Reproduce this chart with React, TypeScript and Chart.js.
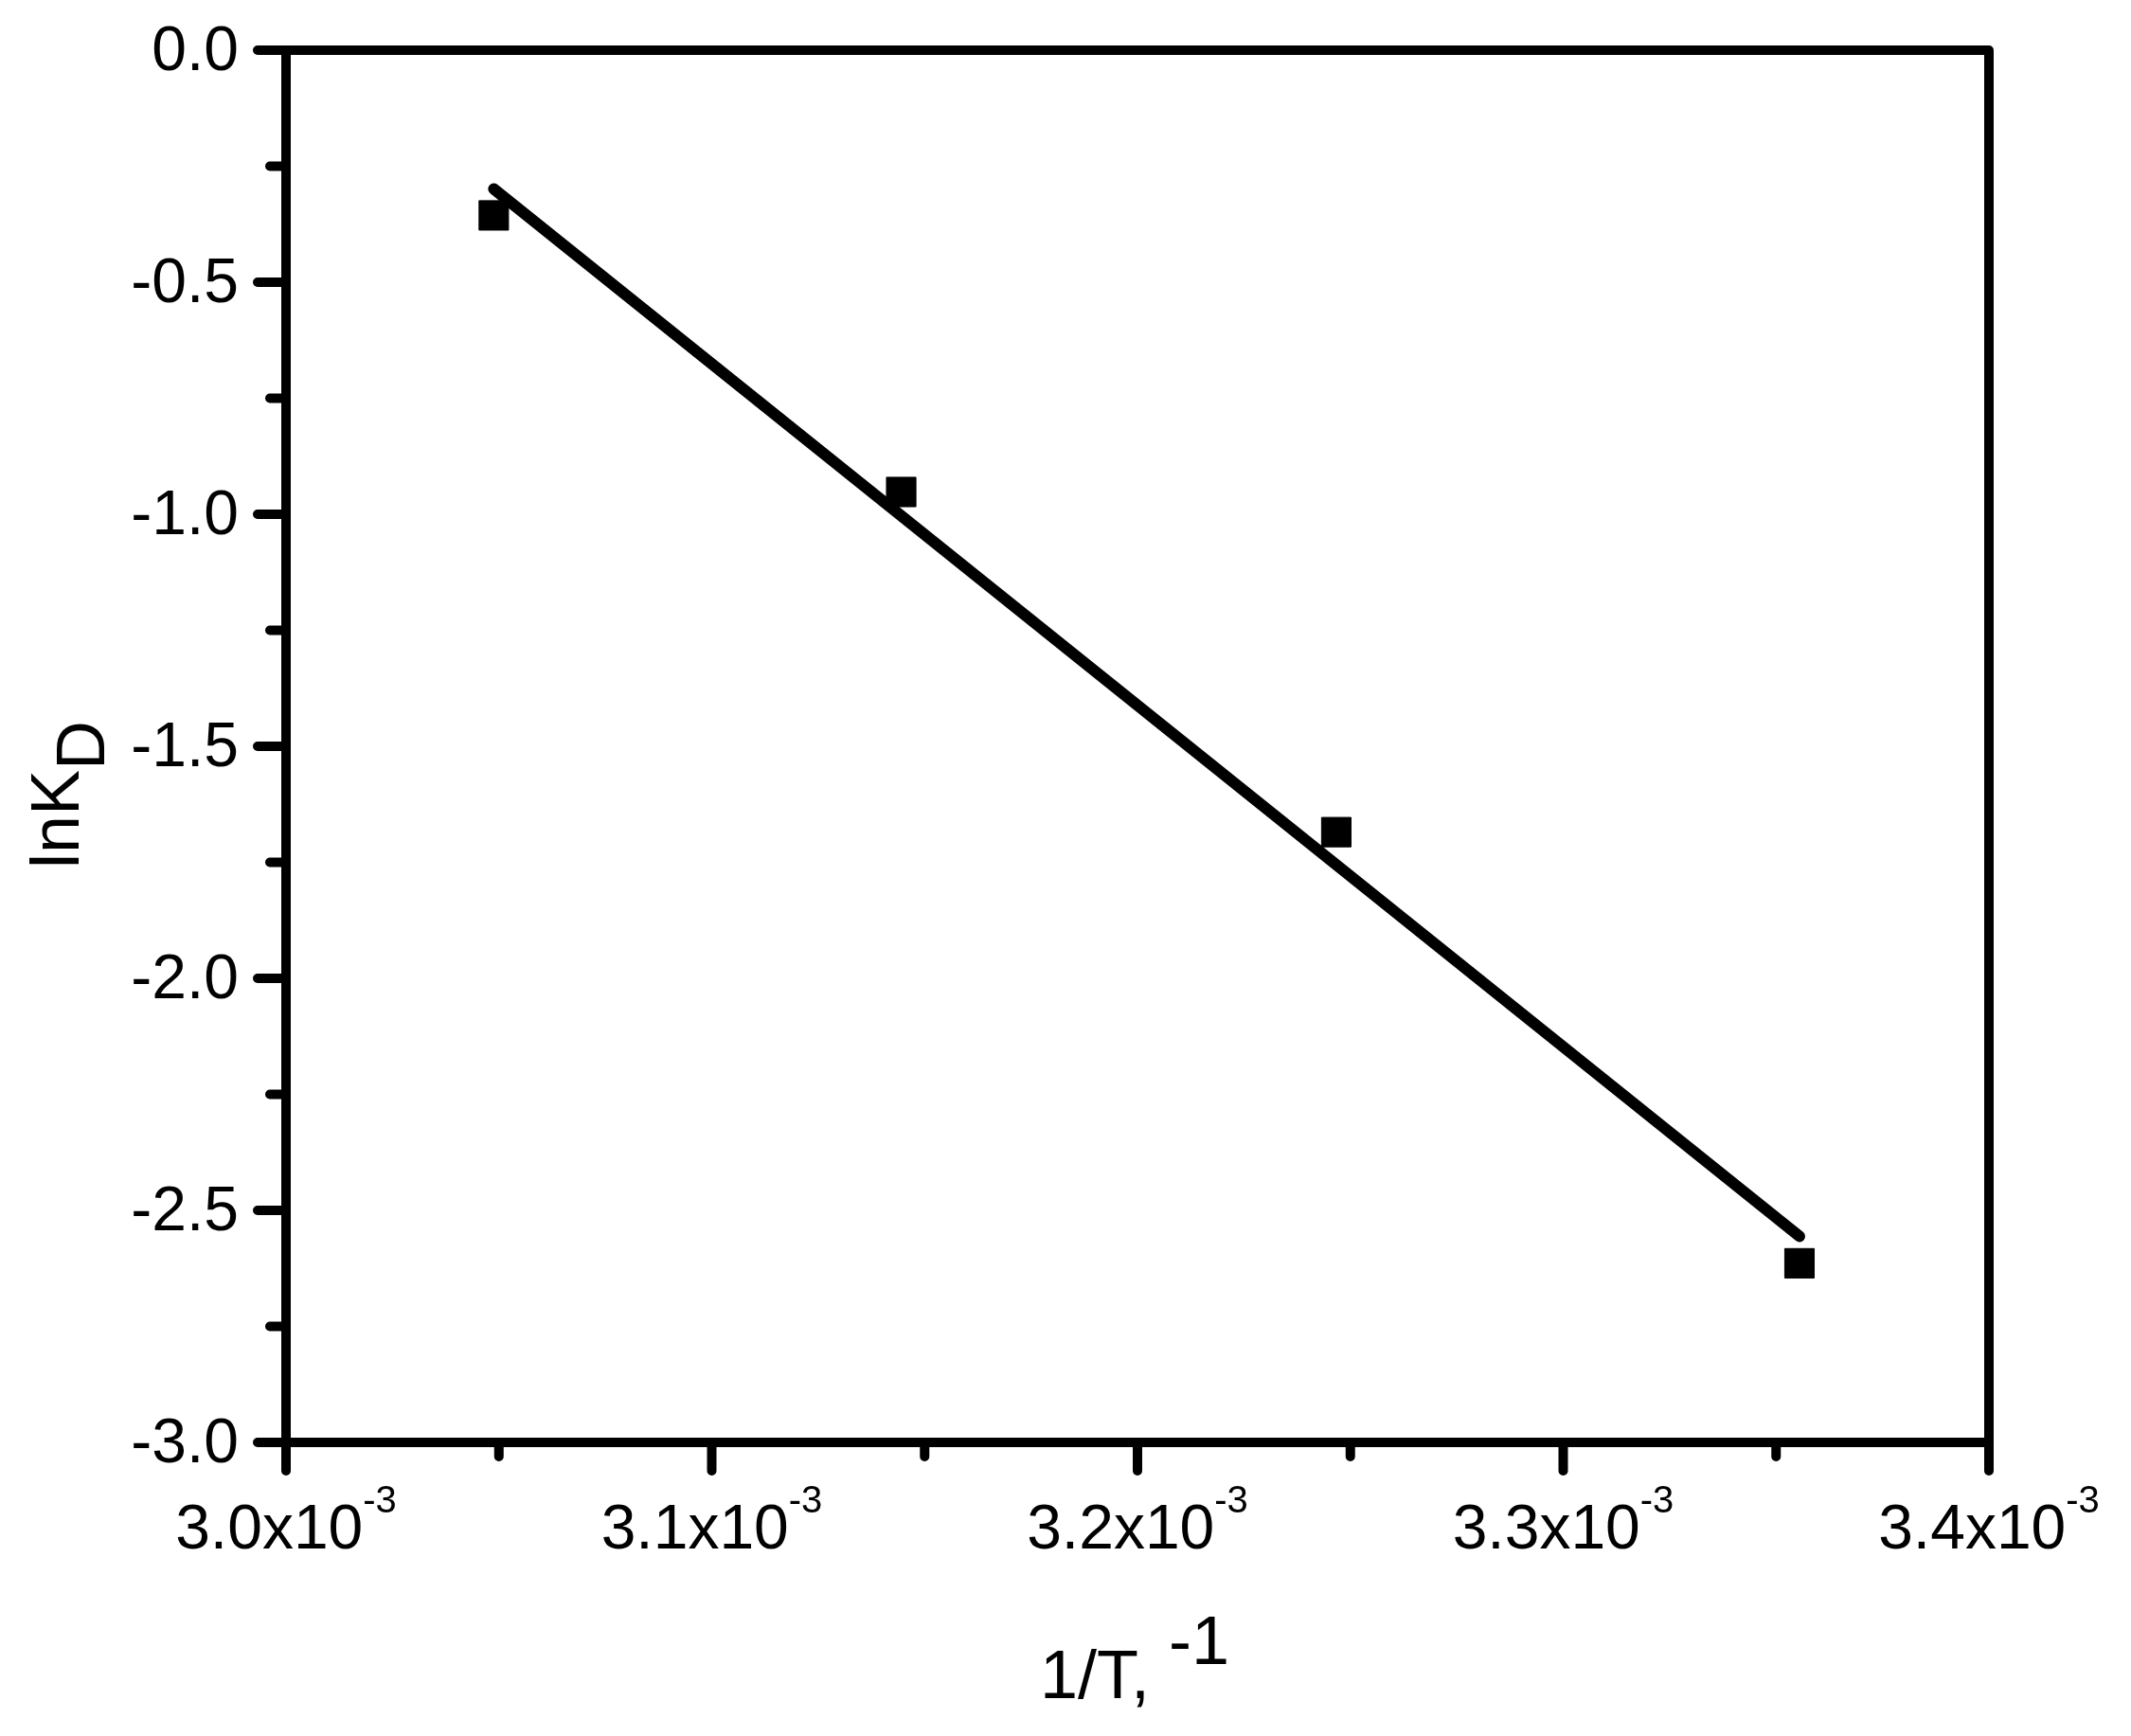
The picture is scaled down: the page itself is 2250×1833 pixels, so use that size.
import React, { useEffect, useRef } from "react";
import { Chart, registerables } from "chart.js";
Chart.register(...registerables);

// ---- data ----
const invT = [3.0488e-3, 3.1445e-3, 3.2467e-3, 3.3555e-3];
const lnKD = [-0.356, -0.952, -1.685, -2.614];
const fitInvT = [3.0488e-3, 3.3555e-3];
const fitLnKD = [-0.299, -2.556];

const xMajorTicks = [3.0e-3, 3.1e-3, 3.2e-3, 3.3e-3, 3.4e-3];
const xTickMantissas = ["3.0", "3.1", "3.2", "3.3", "3.4"];
const xTickExponent = "-3";
const xMinorTicks = [3.05e-3, 3.15e-3, 3.25e-3, 3.35e-3];
const yMajorTicks = [0, -0.5, -1, -1.5, -2, -2.5, -3];
const yTickLabels = ["0.0", "-0.5", "-1.0", "-1.5", "-2.0", "-2.5", "-3.0"];
const yMinorTicks = [-0.25, -0.75, -1.25, -1.75, -2.25, -2.75];

const xTitleMain = "1/T, ";
const xTitleSup = "-1";
const yTitleMain = "lnK";
const yTitleSub = "D";

const FONT = "'Liberation Sans', Arial, Helvetica, sans-serif";

const framePlugin = {
  id: "originFrame",
  beforeDraw(chart: any) {
    const ctx = chart.ctx;
    ctx.save();
    ctx.fillStyle = "#ffffff";
    ctx.fillRect(0, 0, chart.width, chart.height);
    ctx.restore();
  },
  afterDatasetsDraw(chart: any) {
    const ctx = chart.ctx as CanvasRenderingContext2D;
    const xs = chart.scales.x;
    const ys = chart.scales.y;
    const left = xs.getPixelForValue(xMajorTicks[0]);
    const right = xs.getPixelForValue(xMajorTicks[xMajorTicks.length - 1]);
    const top = ys.getPixelForValue(yMajorTicks[0]);
    const bottom = ys.getPixelForValue(yMajorTicks[yMajorTicks.length - 1]);
    ctx.save();
    ctx.strokeStyle = "#000";
    ctx.fillStyle = "#000";
    ctx.lineWidth = 10;
    ctx.lineJoin = "round";
    ctx.lineCap = "round";
    // frame
    ctx.beginPath();
    ctx.rect(left, top, right - left, bottom - top);
    ctx.stroke();
    // y ticks
    ctx.beginPath();
    for (const v of yMajorTicks) {
      const y = ys.getPixelForValue(v);
      ctx.moveTo(left - 30, y);
      ctx.lineTo(left, y);
    }
    for (const v of yMinorTicks) {
      const y = ys.getPixelForValue(v);
      ctx.moveTo(left - 17, y);
      ctx.lineTo(left, y);
    }
    // x ticks
    for (const v of xMajorTicks) {
      const x = xs.getPixelForValue(v);
      ctx.moveTo(x, bottom);
      ctx.lineTo(x, bottom + 30);
    }
    for (const v of xMinorTicks) {
      const x = xs.getPixelForValue(v);
      ctx.moveTo(x, bottom);
      ctx.lineTo(x, bottom + 15);
    }
    ctx.stroke();

    // y tick labels
    ctx.font = `66px ${FONT}`;
    ctx.textAlign = "right";
    ctx.textBaseline = "alphabetic";
    yMajorTicks.forEach((v, i) => {
      const y = ys.getPixelForValue(v);
      ctx.fillText(yTickLabels[i], left - 50, y + 21);
    });

    // x tick labels with superscript exponent
    ctx.textAlign = "left";
    xMajorTicks.forEach((v, i) => {
      const x = xs.getPixelForValue(v);
      const main = xTickMantissas[i] + "x10";
      ctx.font = `66px ${FONT}`;
      const wMain = ctx.measureText(main).width;
      ctx.font = `40px ${FONT}`;
      const wSup = ctx.measureText(xTickExponent).width;
      const start = x - (wMain + wSup) / 2;
      ctx.font = `66px ${FONT}`;
      ctx.fillText(main, start, bottom + 112);
      ctx.font = `40px ${FONT}`;
      ctx.fillText(xTickExponent, start + wMain, bottom + 74);
    });

    // x title
    ctx.font = `72px ${FONT}`;
    const wxm = ctx.measureText(xTitleMain).width;
    const wxs = ctx.measureText(xTitleSup).width;
    const cx = (left + right) / 2 - 3;
    const xs0 = cx - (wxm + wxs) / 2;
    ctx.fillText(xTitleMain, xs0, bottom + 270);
    ctx.fillText(xTitleSup, xs0 + wxm, bottom + 234);

    // y title (rotated)
    const wym = ctx.measureText(yTitleMain).width;
    const wys = ctx.measureText(yTitleSub).width;
    const cy = (top + bottom) / 2 + 51;
    ctx.translate(83, cy + (wym + wys) / 2);
    ctx.rotate(-Math.PI / 2);
    ctx.fillText(yTitleMain, 0, 0);
    ctx.fillText(yTitleSub, wym, 27);
    ctx.restore();
  },
};

export default function App() {
  const ref = useRef<HTMLCanvasElement | null>(null);
  useEffect(() => {
    document.body.style.margin = "0";
    document.body.style.overflow = "hidden";
    const canvas = ref.current!;
    const chart = new Chart(canvas, {
      type: "scatter",
      data: {
        datasets: [
          {
            type: "line",
            label: "fit",
            data: fitInvT.map((x, i) => ({ x, y: fitLnKD[i] })),
            borderColor: "#000",
            borderWidth: 12,
            borderCapStyle: "round",
            pointRadius: 0,
            fill: false,
            order: 2,
          } as any,
          {
            type: "scatter",
            label: "lnKD",
            data: invT.map((x, i) => ({ x, y: lnKD[i] })),
            pointStyle: "rect",
            pointRadius: 22,
            pointBackgroundColor: "#000",
            pointBorderColor: "#000",
            pointBorderWidth: 1,
            order: 1,
          } as any,
        ],
      },
      options: {
        responsive: false,
        animation: false,
        devicePixelRatio: 1,
        layout: { padding: { left: 302, right: 150, top: 53, bottom: 310 } },
        plugins: { legend: { display: false }, tooltip: { enabled: false } },
        events: [],
        scales: {
          x: { type: "linear", min: 3.0e-3, max: 3.4e-3, display: false },
          y: { type: "linear", min: -3, max: 0, display: false },
        },
      },
      plugins: [framePlugin],
    });
    return () => chart.destroy();
  }, []);
  return (
    <canvas
      ref={ref}
      width={2250}
      height={1833}
      style={{ position: "absolute", left: 0, top: 0, width: 2250, height: 1833 }}
    />
  );
}
